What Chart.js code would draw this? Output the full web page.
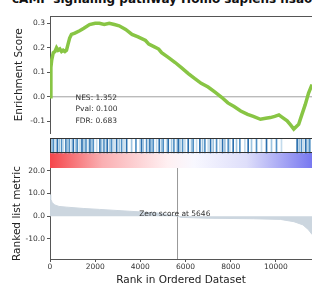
<!DOCTYPE html>
<html>
<head>
<meta charset="utf-8">
<script src="https://cdn.jsdelivr.net/npm/chart.js@4.4.0/dist/chart.umd.min.js"></script>
<style>
html, body { margin: 0; padding: 0; background: #fff; }
#wrap { position: relative; width: 312px; height: 285px; overflow: hidden; font-family: 'DejaVu Sans'; }
#title { position: absolute; left: 12px; top: -7px; font-weight: bold; font-size: 12px; line-height: 12px; white-space: nowrap; color: #111; }
.box { position: absolute; left: 0; width: 312px; }
</style>
</head>
<body>
<div id="wrap">
  <div id="title">cAMP signaling pathway Homo sapiens hsa04024</div>
  <div class="box" style="top:0;height:140px"><canvas id="es" width="312" height="140"></canvas></div>
  <div class="box" style="top:138px;height:30px"><canvas id="hits" width="312" height="30"></canvas></div>
  <div class="box" style="top:160px;height:127px"><canvas id="rank" width="312" height="127"></canvas></div>
</div>
<script>
// data
var xMax = 11600
var xTicks = [0, 2000, 4000, 6000, 8000, 10000]

var esTicks = [-0.1, 0.0, 0.1, 0.2, 0.3]
var esRanks = [0, 40, 75, 145, 220, 290, 360, 437, 510, 582, 660, 730, 800, 870, 950, 1100, 1312, 1500, 1750, 2000,
    2187, 2400, 2625, 2850, 3062, 3350, 3630, 3900, 4230, 4375, 4600, 4812, 4943, 5250, 5542, 5830, 6124, 6400,
    6693, 7000, 7292, 7600, 7874, 8150, 8443, 8750, 9000, 9318, 9550, 9755, 9950, 10136, 10300, 10499, 10650,
    10792, 10900, 11010, 11155, 11300, 11448, 11600]
var esValues = [0, 0.12, 0.15, 0.18, 0.185, 0.20, 0.19, 0.195, 0.185, 0.19, 0.185, 0.19, 0.215, 0.24, 0.255, 0.26,
    0.27, 0.28, 0.295, 0.30, 0.30, 0.295, 0.30, 0.295, 0.29, 0.275, 0.255, 0.245, 0.23, 0.215, 0.205, 0.195, 0.18,
    0.16, 0.14, 0.118, 0.095, 0.075, 0.055, 0.04, 0.02, -0.002, -0.025, -0.04, -0.058, -0.072, -0.08, -0.092,
    -0.088, -0.085, -0.08, -0.074, -0.085, -0.098, -0.115, -0.132, -0.122, -0.112, -0.072, -0.032, 0.015, 0.05]

var hitRanks = [74, 147, 221, 324, 413, 516, 590, 708, 767, 855, 959, 1032, 1150, 1209, 1327, 1416, 1504, 1593,
    1696, 1770, 1843, 1917, 2065, 2212, 2286, 2389, 2478, 2536, 2654, 2728, 2831, 2949, 3067, 3171, 3274, 3392,
    3613, 3805, 3982, 4055, 4129, 4277, 4350, 4424, 4498, 4572, 4719, 4837, 4940, 5014, 5161, 5235, 5383, 5486,
    5604, 5678, 5751, 5869, 5973, 6120, 6267, 6341, 6489, 6636, 6754, 6857, 7005, 7108, 7226, 7374, 7521, 7639,
    7742, 7890, 7963, 8111, 8258, 8406, 8627, 8774, 8922, 9143, 9364, 9586, 9807, 10028, 10249, 10942, 11031,
    11134, 11238, 11326, 11429, 11503]

var rankTicks = [-10, 0, 10, 20]
var rankPos = [0, 30, 100, 200, 400, 740, 1500, 2190, 3500, 4680, 5200, 5646, 5800, 7000, 9000, 10200, 10800,
    11200, 11450, 11600]
var rankMetric = [9.5, 7.5, 6.0, 5.0, 4.3, 4.0, 3.4, 3.0, 2.2, 1.5, 0.8, 0.0, -0.5, -0.9, -1.1, -1.4, -2.4,
    -3.8, -6.0, -8.0]
var zeroRank = 5646
var statLines = ['NES: 1.352', 'Pval: 0.100', 'FDR: 0.683']

Chart.defaults.font.family = "'DejaVu Sans'"
Chart.defaults.font.size = 7.5
Chart.defaults.color = '#333'

var hitShades = ['#9ec4e0', '#4f8fc4', '#c3dbec', '#2a6fae']

function fixWidth(scale) { scale.width = 50 }

function tickSetter(list) {
    return function (scale) {
        scale.ticks = list.map(function (v) { return { value: v } })
    }
}

var esText = {
    id: 'esText',
    afterDatasetsDraw: function (chart) {
        var ctx = chart.ctx
        var xs = chart.scales.x
        var ys = chart.scales.y
        ctx.save()
        ctx.fillStyle = '#333'
        ctx.font = "7.5px 'DejaVu Sans'"
        ctx.textBaseline = 'middle'
        var x0 = xs.getPixelForValue(1130)
        statLines.forEach(function (t, i) {
            ctx.fillText(t, x0, ys.getPixelForValue(-0.005 - i * 0.047))
        })
        // top spine
        ctx.strokeStyle = '#555'
        ctx.lineWidth = 1
        ctx.beginPath()
        ctx.moveTo(chart.chartArea.left, chart.chartArea.top + 0.5)
        ctx.lineTo(chart.chartArea.right, chart.chartArea.top + 0.5)
        ctx.stroke()
        ctx.restore()
    }
}

new Chart(document.getElementById('es'), {
    type: 'line',
    data: {
        datasets: [{
            data: esRanks.map(function (r, i) { return { x: r, y: esValues[i] } }),
            borderColor: '#88C544',
            borderWidth: 3.5,
            pointRadius: 0,
            order: 0
        }, {
            data: [{ x: 0, y: 0 }, { x: xMax, y: 0 }],
            borderColor: '#a0a0a0',
            borderWidth: 1,
            pointRadius: 0,
            order: 1
        }]
    },
    options: {
        responsive: false,
        animation: false,
        layout: { padding: { top: 16, bottom: 4, left: 0, right: 0 } },
        plugins: { legend: { display: false }, tooltip: { enabled: false } },
        scales: {
            x: { type: 'linear', min: 0, max: xMax, display: false },
            y: {
                min: -0.15,
                max: 0.33,
                afterFit: fixWidth,
                afterBuildTicks: tickSetter(esTicks),
                ticks: { callback: function (v) { return v.toFixed(1) }, padding: 2 },
                grid: { drawOnChartArea: false, tickLength: 3, color: '#555' },
                border: { color: '#555' },
                title: { display: true, text: 'Enrichment Score', font: { size: 10.5 }, color: '#222', padding: { top: 13, bottom: 0 } }
            }
        }
    },
    plugins: [esText]
})

var stripPlugin = {
    id: 'strip',
    beforeDatasetsDraw: function (chart) {
        var ctx = chart.ctx
        var a = chart.chartArea
        var ys = chart.scales.y
        var g = ctx.createLinearGradient(a.left, 0, a.right, 0)
        g.addColorStop(0, 'rgb(245,70,75)')
        g.addColorStop(0.2, 'rgb(250,175,178)')
        g.addColorStop(0.45, 'rgb(255,240,242)')
        g.addColorStop(0.55, 'rgb(248,248,255)')
        g.addColorStop(0.75, 'rgb(222,222,250)')
        g.addColorStop(1, 'rgb(120,120,240)')
        ctx.save()
        ctx.fillStyle = g
        var y1 = ys.getPixelForValue(1)
        var y0 = ys.getPixelForValue(0)
        ctx.fillRect(a.left, y1, a.right - a.left, y0 - y1)
        ctx.restore()
    },
    afterDatasetsDraw: function (chart) {
        var ctx = chart.ctx
        var a = chart.chartArea
        var ys = chart.scales.y
        var yt = ys.getPixelForValue(2)
        var yb = ys.getPixelForValue(1)
        ctx.save()
        ctx.strokeStyle = '#333'
        ctx.lineWidth = 1
        ctx.strokeRect(a.left + 0.5, yt + 0.5, a.right - a.left + 2, yb - yt - 1)
        ctx.restore()
    }
}

new Chart(document.getElementById('hits'), {
    type: 'bar',
    data: {
        datasets: [{
            data: hitRanks.map(function (r) { return { x: r, y: [1, 2] } }),
            backgroundColor: hitRanks.map(function (r, i) { return hitShades[i % hitShades.length] }),
            barThickness: 1
        }]
    },
    options: {
        responsive: false,
        animation: false,
        layout: { padding: { top: 0, bottom: 0, left: 50, right: 0 } },
        plugins: { legend: { display: false }, tooltip: { enabled: false } },
        scales: {
            x: { type: 'linear', min: 0, max: xMax, offset: false, display: false },
            y: { min: 0, max: 2, display: false }
        }
    },
    plugins: [stripPlugin]
})

var rankText = {
    id: 'rankText',
    afterDatasetsDraw: function (chart) {
        var ctx = chart.ctx
        ctx.save()
        ctx.fillStyle = '#333'
        ctx.font = "7.5px 'DejaVu Sans'"
        ctx.textBaseline = 'middle'
        ctx.fillText('Zero score at ' + zeroRank, chart.scales.x.getPixelForValue(3950), chart.scales.y.getPixelForValue(0.9))
        ctx.restore()
    }
}

new Chart(document.getElementById('rank'), {
    type: 'line',
    data: {
        datasets: [{
            data: rankPos.map(function (r, i) { return { x: r, y: rankMetric[i] } }),
            fill: 'origin',
            backgroundColor: '#ccd6df',
            borderColor: '#ccd6df',
            borderWidth: 1,
            pointRadius: 0
        }, {
            data: [{ x: zeroRank, y: -18.8 }, { x: zeroRank, y: 21.2 }],
            borderColor: '#999',
            borderWidth: 1,
            pointRadius: 0
        }]
    },
    options: {
        responsive: false,
        animation: false,
        layout: { padding: { top: 8, bottom: 0, left: 0, right: 0 } },
        plugins: { legend: { display: false }, tooltip: { enabled: false } },
        scales: {
            x: {
                type: 'linear',
                min: 0,
                max: xMax,
                afterFit: function (s) { s.height = 28 },
                afterBuildTicks: tickSetter(xTicks),
                ticks: { callback: function (v) { return String(v) }, padding: 1, maxRotation: 0 },
                grid: { drawOnChartArea: false, tickLength: 3, color: '#555' },
                border: { color: '#555' },
                title: { display: true, text: 'Rank in Ordered Dataset', font: { size: 10.5 }, color: '#222', padding: { top: 0, bottom: 0 } }
            },
            y: {
                min: -18.8,
                max: 21.2,
                afterFit: fixWidth,
                afterBuildTicks: tickSetter(rankTicks),
                ticks: { callback: function (v) { return v.toFixed(1) }, padding: 2 },
                grid: { drawOnChartArea: false, tickLength: 3, color: '#555' },
                border: { color: '#555' },
                title: { display: true, text: 'Ranked list metric', font: { size: 10.5 }, color: '#222', padding: { top: 11, bottom: 0 } }
            }
        }
    },
    plugins: [rankText]
})
</script>
</body>
</html>
